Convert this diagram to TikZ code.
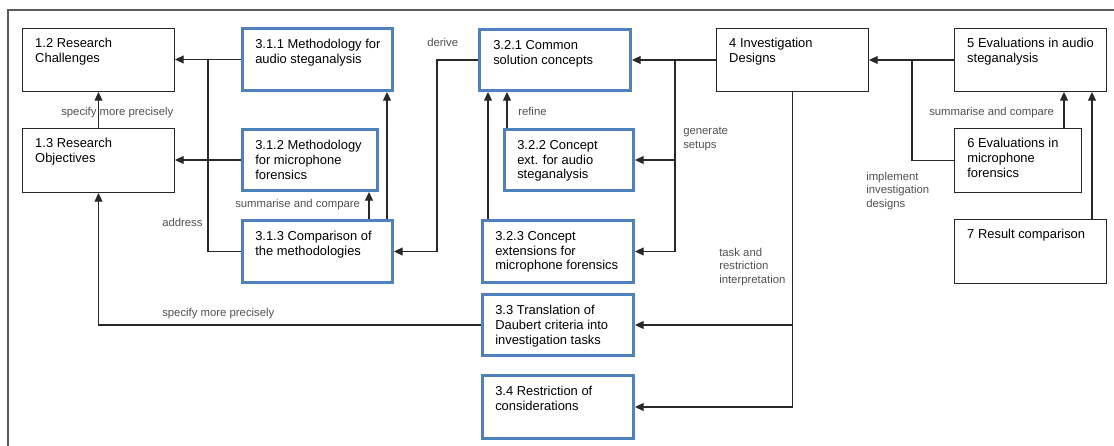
\documentclass[tikz,border=0pt]{standalone}
\usepackage{fontspec}
\setmainfont{Liberation Sans}
\usetikzlibrary{arrows.meta}
\definecolor{boxblue}{RGB}{79,129,189}
\definecolor{labelgray}{RGB}{80,80,80}
\definecolor{linegray}{RGB}{40,40,40}
\definecolor{framegray}{RGB}{90,90,90}

\begin{document}
\begin{tikzpicture}[x=0.75pt,y=-0.75pt,
  plainbox/.style={draw=black!85, line width=1pt, inner sep=0pt, rectangle},
  bluebox/.style={draw=boxblue, line width=2.25pt, inner sep=0pt, rectangle},
  boxtext/.style={anchor=north west, inner sep=0pt, align=left, text=black,
    font=\fontsize{9.7}{11.1}\selectfont},
  note/.style={anchor=north west, inner sep=0pt, align=left, text=labelgray,
    font=\fontsize{8.5}{10.1}\selectfont},
  wire/.style={draw=linegray, line width=0.8pt},
  arr/.style={wire, -{Triangle[length=6.5pt,width=6pt]}}]

\useasboundingbox (0,0) rectangle (1114,446);

% page frame
\draw[framegray, line width=0.9pt] (8,446) -- (8,10) -- (1114,10);

% ---- boxes ----
\node[plainbox, minimum width=113.8pt, minimum height=47pt]   (c12)  at (98.5,60) {};
\node[plainbox, minimum width=113.8pt, minimum height=47.8pt] (c13)  at (98.5,160.5) {};
\node[bluebox,  minimum width=112.5pt, minimum height=46.5pt] (m311) at (317.5,59.5) {};
\node[bluebox,  minimum width=101.25pt, minimum height=45.75pt] (m312) at (310,160) {};
\node[bluebox,  minimum width=112.5pt, minimum height=46.5pt] (m313) at (317.5,251.5) {};
\node[bluebox,  minimum width=113.25pt, minimum height=45.75pt] (s321) at (555,60) {};
\node[bluebox,  minimum width=96.75pt, minimum height=45.75pt] (s322) at (569,160) {};
\node[bluebox,  minimum width=113.25pt, minimum height=46.5pt] (s323) at (558,251.5) {};
\node[bluebox,  minimum width=113.25pt, minimum height=45.75pt] (t33)  at (558,325) {};
\node[bluebox,  minimum width=113.25pt, minimum height=47.25pt] (t34)  at (558,407) {};
\node[plainbox, minimum width=113.8pt, minimum height=47pt]   (d4)   at (792.5,60) {};
\node[plainbox, minimum width=113.8pt, minimum height=47pt]   (e5)   at (1030.5,60) {};
\node[plainbox, minimum width=95pt,    minimum height=47.8pt] (e6)   at (1018,160.5) {};
\node[plainbox, minimum width=113.8pt, minimum height=47.8pt] (r7)   at (1030.5,251.5) {};

% ---- box texts ----
\node[boxtext] (c12t)  at ([shift={(13,10)}]c12.north west)  {1.2 Research\\Challenges};
\node[boxtext] (c13t)  at ([shift={(13,10)}]c13.north west)  {1.3 Research\\Objectives};
\node[boxtext] (m311t) at ([shift={(14,12)}]m311.north west) {3.1.1 Methodology for\\audio steganalysis};
\node[boxtext] (m312t) at ([shift={(14,12)}]m312.north west) {3.1.2 Methodology\\for microphone\\forensics};
\node[boxtext] (m313t) at ([shift={(14,12)}]m313.north west) {3.1.3 Comparison of\\the methodologies};
\node[boxtext] (s321t) at ([shift={(15,12)}]s321.north west) {3.2.1 Common\\solution concepts};
\node[boxtext] (s322t) at ([shift={(14,12)}]s322.north west) {3.2.2 Concept\\ext. for audio\\steganalysis};
\node[boxtext] (s323t) at ([shift={(14,12)}]s323.north west) {3.2.3 Concept\\extensions for\\microphone forensics};
\node[boxtext] (t33t)  at ([shift={(14,12)}]t33.north west)  {3.3 Translation of\\Daubert criteria into\\investigation tasks};
\node[boxtext] (t34t)  at ([shift={(14,12)}]t34.north west)  {3.4 Restriction of\\considerations};
\node[boxtext] (d4t)   at ([shift={(13,10)}]d4.north west)   {4 Investigation\\Designs};
\node[boxtext] (e5t)   at ([shift={(13,10)}]e5.north west)   {5 Evaluations in audio\\steganalysis};
\node[boxtext] (e6t)   at ([shift={(13,10)}]e6.north west)   {6 Evaluations in\\microphone\\forensics};
\node[boxtext] (r7t)   at ([shift={(13,10)}]r7.north west)   {7 Result comparison};

% ---- connector labels ----
\node[note] (lspec1)  at (61,107)  {specify more precisely};
\node[note] (laddr)   at (162,218) {address};
\node[note] (lsum1)   at (235,199) {summarise and compare};
\node[note] (lderive) at (427,38)  {derive};
\node[note] (lrefine) at (518,107) {refine};
\node[note] (lgen)    at (683,127) {generate\\setups};
\node[note] (ltask)   at (719,248) {task and\\restriction\\interpretation};
\node[note] (limpl)   at (866,172) {implement\\investigation\\designs};
\node[note] (lsum2)   at (929,107) {summarise and compare};
\node[note] (lspec2)  at (162,308) {specify more precisely};

% ---- vertical rails for the routed connectors ----
\coordinate (r208)  at (208,0);
\coordinate (r369)  at (369,0);
\coordinate (r387)  at (387,0);
\coordinate (r437)  at (437,0);
\coordinate (r488)  at (488,0);
\coordinate (r507)  at (507,0);
\coordinate (r675)  at (675,0);
\coordinate (r912)  at (912,0);
\coordinate (r1064) at (1064,0);
\coordinate (r1092) at (1092,0);

% ---- connectors ----
\draw[arr]  (m311.west) -- (c12.east |- m311.west);
\draw[arr]  (m312.west) -- (c13.east |- m312.west);
\draw[wire] (m313.west) -| (r208 |- m311.west);
\draw[arr]  (c13.north) -- (c12.south);
\draw[arr]  (t33.west) -| (c13.south);
\draw[arr]  (m313.north -| r369) -- (m312.south -| r369);
\draw[arr]  (m313.north -| r387) -- (m311.south -| r387);
\draw[arr]  (s321.west) -| (r437 |- m313.east) -- (m313.east);
\draw[arr]  (s322.north -| r507) -- (s321.south -| r507);
\draw[arr]  (s323.north -| r488) -- (s321.south -| r488);
\draw[arr]  (d4.west) -- (s321.east |- d4.west);
\draw[arr]  (r675 |- d4.west) |- (s322.east);
\draw[arr]  (r675 |- d4.west) |- (s323.east);
\draw[arr]  (d4.south) |- (t34.east);
\draw[arr]  (d4.south |- t33.east) -- (t33.east);
\draw[arr]  (e5.west) -- (d4.east |- e5.west);
\draw[wire] (r912 |- e5.west) |- (e6.west);
\draw[arr]  (e6.north -| r1064) -- (e5.south -| r1064);
\draw[arr]  (r7.north -| r1092) -- (e5.south -| r1092);

\end{tikzpicture}
\end{document}
